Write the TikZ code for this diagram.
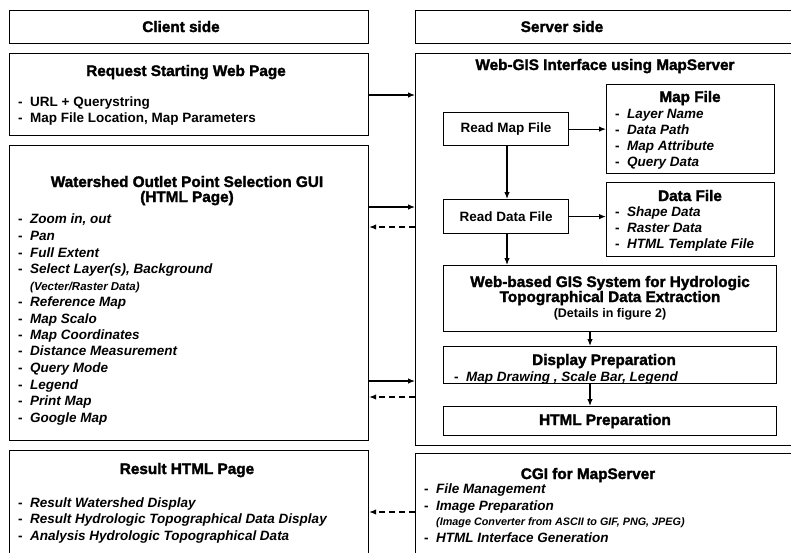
\documentclass[tikz,border=0pt]{standalone}
\usepackage{fontspec}
\setmainfont{Liberation Sans}
\newfontfamily\heavy{Liberation Sans}[BoldFeatures={FakeBold=2}]
\usetikzlibrary{arrows.meta}
\newcommand{\dl}[1][12pt]{\makebox[#1][l]{\upshape -}}
\begin{document}
\begin{tikzpicture}[x=1pt,y=-1pt,
 box/.style={draw, line width=1.2pt, inner sep=0pt, anchor=north west},
 ttl/.style={anchor=base, inner sep=0pt, font=\heavy\bfseries\fontsize{15.3}{18}\selectfont},
 lbl/.style={font=\bfseries\fontsize{13.5}{16}\selectfont},
 sub/.style={anchor=base, inner sep=0pt, font=\bfseries\fontsize{12.5}{15}\selectfont},
 itm/.style={anchor=base west, inner sep=0pt, font=\bfseries\itshape\fontsize{13.5}{16}\selectfont},
 itr/.style={anchor=base west, inner sep=0pt, font=\bfseries\fontsize{13.5}{16}\selectfont},
 sml/.style={anchor=base west, inner sep=0pt, font=\bfseries\itshape\fontsize{11.5}{14}\selectfont},
 arr/.style={-{Latex[length=7pt,width=5.5pt]}, line width=1.2pt},
 darr/.style={arr, dash pattern=on 6pt off 4pt}]
\useasboundingbox (0,0) rectangle (791,552);
\clip (0,0) rectangle (791,552);
% ---------- headers
\node[box, minimum width=359pt, minimum height=33pt] (cs) at (9,10) {};
\node[ttl] (cst) at (181,32) {Client side};
\node[box, minimum width=400pt, minimum height=33pt] (ss) at (415,10) {};
\node[ttl] (sst) at (562,32) {Server side};
% ---------- request
\node[box, minimum width=359pt, minimum height=82pt] (req) at (9,53) {};
\node[ttl] (reqt) at (186,76) {Request Starting Web Page};
\node[itr] (r1) at (18,106) {\dl URL + Querystring};
\node[itr] (r2) at (18,122) {\dl Map File Location, Map Parameters};
% ---------- watershed
\node[box, minimum width=359pt, minimum height=295pt] (ws) at (9,145) {};
\node[ttl] (wst1) at (187,187) {Watershed Outlet Point Selection GUI};
\node[ttl] (wst2) at (187,202) {(HTML Page)};
\node[itm] (w1) at (18,223) {\dl Zoom in, out};
\node[itm] (w2) at (18,240) {\dl Pan};
\node[itm] (w3) at (18,257) {\dl Full Extent};
\node[itm] (w4) at (18,273) {\dl Select Layer(s), Background};
\node[sml] (w5) at (30,290) {(Vecter/Raster Data)};
\node[itm] (w6) at (18,306) {\dl Reference Map};
\node[itm] (w7) at (18,323) {\dl Map Scalo};
\node[itm] (w8) at (18,339) {\dl Map Coordinates};
\node[itm] (w9) at (18,355) {\dl Distance Measurement};
\node[itm] (w10) at (18,372) {\dl Query Mode};
\node[itm] (w11) at (18,389) {\dl Legend};
\node[itm] (w12) at (18,405) {\dl Print Map};
\node[itm] (w13) at (18,422) {\dl Google Map};
% ---------- result
\node[box, minimum width=359pt, minimum height=120pt] (res) at (9,450) {};
\node[ttl] (rest) at (187,474) {Result HTML Page};
\node[itm] (s1) at (18,507) {\dl Result Watershed Display};
\node[itm] (s2) at (18,523) {\dl Result Hydrologic Topographical Data Display};
\node[itm] (s3) at (18,540) {\dl Analysis Hydrologic Topographical Data};
% ---------- web-gis
\node[box, minimum width=400pt, minimum height=392pt] (gis) at (415,53) {};
\node[ttl] (gist) at (605,70) {Web-GIS Interface using MapServer};
\node[box, lbl, minimum width=125pt, minimum height=33pt] (rm) at (443,112) {Read Map File};
\node[box, lbl, minimum width=125pt, minimum height=34pt] (rd) at (443,199) {Read Data File};
\node[box, minimum width=168pt, minimum height=89pt] (mf) at (606,84) {};
\node[ttl] (mft) at (690,102) {Map File};
\node[itm] (m1) at (615,118) {\dl Layer Name};
\node[itm] (m2) at (615,134) {\dl Data Path};
\node[itm] (m3) at (615,150) {\dl Map Attribute};
\node[itm] (m4) at (615,166) {\dl Query Data};
\node[box, minimum width=168pt, minimum height=74pt] (df) at (606,182) {};
\node[ttl] (dft) at (690,201) {Data File};
\node[itm] (d1) at (615,216) {\dl Shape Data};
\node[itm] (d2) at (615,232) {\dl Raster Data};
\node[itm] (d3) at (615,248) {\dl HTML Template File};
\node[box, minimum width=333pt, minimum height=66pt] (wb) at (443,265) {};
\node[ttl] (wbt1) at (610,287) {Web-based GIS System for Hydrologic};
\node[ttl] (wbt2) at (610,302) {Topographical Data Extraction};
\node[sub] (wbt3) at (610,317) {(Details in figure 2)};
\node[box, minimum width=333pt, minimum height=37pt] (dp) at (443,346) {};
\node[ttl] (dpt) at (604,365) {Display Preparation};
\node[itm] (dp1) at (454,381) {\dl Map Drawing , Scale Bar, Legend};
\node[box, minimum width=333pt, minimum height=29pt] (hp) at (443,406) {};
\node[ttl] (hpt) at (605,425) {HTML Preparation};
% ---------- cgi
\node[box, minimum width=400pt, minimum height=120pt] (cgi) at (415,453) {};
\node[ttl] (cgit) at (588,479) {CGI for MapServer};
\node[itm] (c1) at (424,493) {\dl File Management};
\node[itm] (c2) at (424,510) {\dl Image Preparation};
\node[sml] (c3) at (436,525) {\fontsize{10.8}{13}\selectfont(Image Converter from ASCII to GIF, PNG, JPEG)};
\node[itm] (c4) at (424,542) {\dl HTML Interface Generation};
% ---------- connectors
\coordinate (y1) at (0,95);
\coordinate (y2) at (0,207);
\coordinate (y3) at (0,227);
\coordinate (y4) at (0,381);
\coordinate (y5) at (0,397);
\coordinate (y6) at (0,512);
\coordinate (xa) at (507,0);
\coordinate (xb) at (590,0);
\draw[arr] (req.east |- y1) -- (gis.west |- y1);
\draw[arr] (ws.east |- y2) -- (gis.west |- y2);
\draw[darr] (gis.west |- y3) -- (ws.east |- y3);
\draw[arr] (ws.east |- y4) -- (gis.west |- y4);
\draw[darr] (gis.west |- y5) -- (ws.east |- y5);
\draw[darr] (cgi.west |- y6) -- (res.east |- y6);
\draw[arr] (rm.east) -- (rm.east -| mf.west);
\draw[arr] (rd.east) -- (rd.east -| df.west);
\draw[arr] (rm.south -| xa) -- (rd.north -| xa);
\draw[arr] (rd.south -| xa) -- (wb.north -| xa);
\draw[arr] (wb.south -| xb) -- (dp.north -| xb);
\draw[arr] (dp.south -| xb) -- (hp.north -| xb);
\end{tikzpicture}
\end{document}
